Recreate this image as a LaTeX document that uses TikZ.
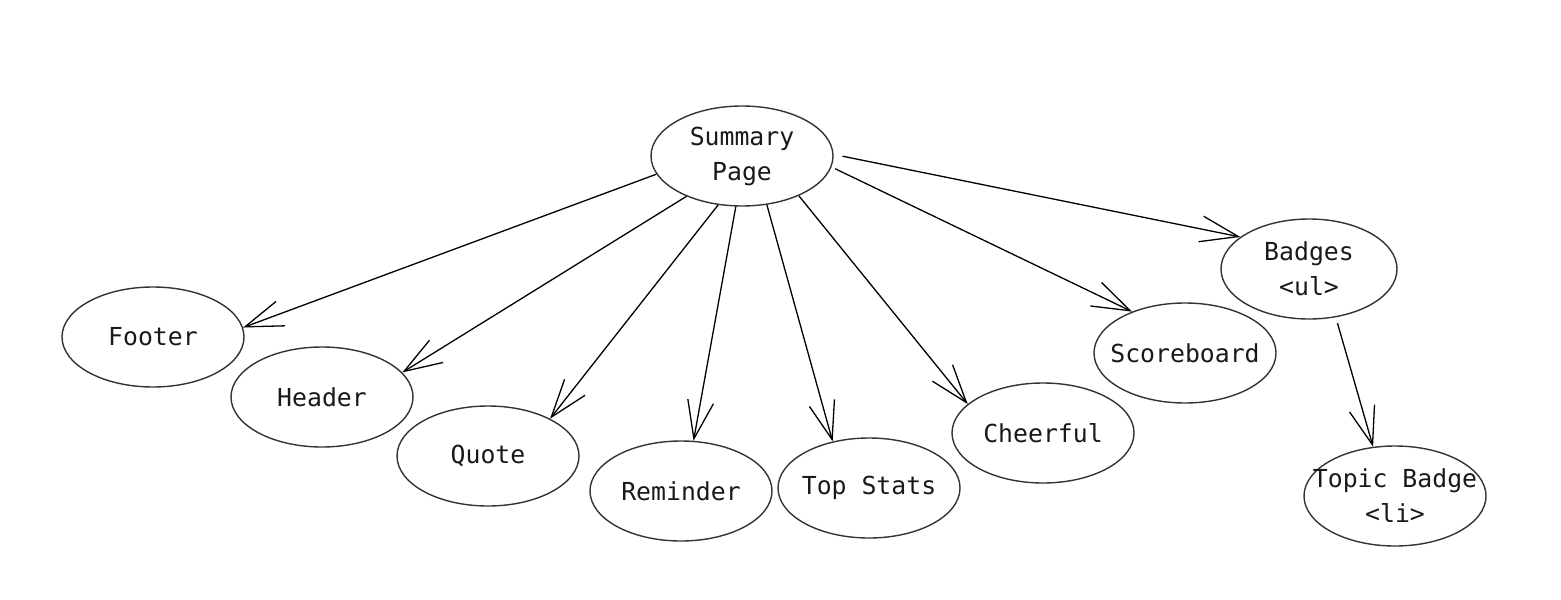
\documentclass[tikz,border=0pt]{standalone}
\usepackage{fontspec}
\setmonofont{DejaVu Sans Mono}
\usetikzlibrary{arrows.meta,shapes.geometric}

\begin{document}
\begin{tikzpicture}[x=0.5pt,y=-0.5pt]
            \tikzset{
                vertex/.style={ellipse,draw=black!80,line width=0.7pt,minimum width=91pt,minimum height=50pt,inner xsep=-12pt,inner ysep=0pt,align=center,text=black!90,font=\ttfamily\fontsize{12.4}{17.5}\selectfont},
                edge/.style={-{Straight Barb[length=19pt,width=13pt]},line width=0.65pt}
            }
            \useasboundingbox (0,0) rectangle (1561,599);
            % vertices
            \node[vertex] (sum) at (742,156) {Summary\\Page};
            \node[vertex] (foot) at (153,337) {Footer};
            \node[vertex] (head) at (322,397) {Header};
            \node[vertex] (quote) at (488,456) {Quote};
            \node[vertex] (remind) at (681,491) {Reminder};
            \node[vertex] (stats) at (869,488) {Top Stats};
            \node[vertex] (cheer) at (1043,433) {Cheerful};
            \node[vertex] (score) at (1185,353) {Scoreboard};
            \node[vertex,minimum width=88pt] (badges) at (1309,269) {Badges\\<ul>};
            \node[vertex] (topic) at (1395,496) {Topic Badge\\<li>};

            %edges
            \draw[edge] (sum.192) -- (foot.6);
            \draw[edge] (sum.216) -- (head.17);
            \draw[edge] (sum.244) -- (quote.31);
            \draw[edge] (sum.263.5) -- (remind.76);
            \draw[edge] (sum.297) -- (stats.128);
            \draw[edge] (sum.325) -- (cheer.159);
            \draw[edge,shorten <=2pt] (sum.353) -- (score.142);
            \draw[edge,shorten <=4.5pt] (sum.1.7) -- (badges.155);
            \draw[edge,shorten <=3pt] (badges.299) -- (topic.114);
            \end{tikzpicture}
\end{document}
